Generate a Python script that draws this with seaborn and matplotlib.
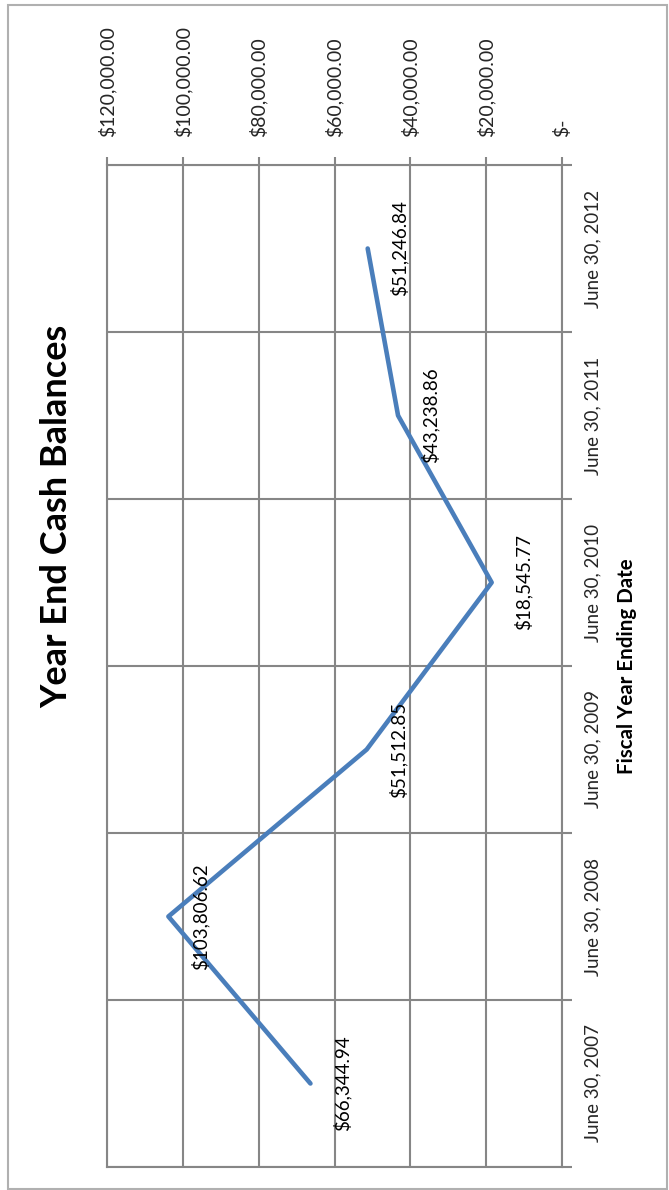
import matplotlib
matplotlib.use("Agg")
import matplotlib.pyplot as plt
import matplotlib.patches as mpatches
import numpy as np
import pandas as pd
import seaborn as sns

# ---- data ----
categories = ["June 30, 2007", "June 30, 2008", "June 30, 2009",
              "June 30, 2010", "June 30, 2011", "June 30, 2012"]
balances = [66344.94, 103806.62, 51512.85, 18545.77, 43238.86, 51246.84]
value_ticks = [0, 20000, 40000, 60000, 80000, 100000, 120000]
value_tick_labels = ["$-", "$20,000.00", "$40,000.00", "$60,000.00",
                     "$80,000.00", "$100,000.00", "$120,000.00"]
data_labels = ["$66,344.94", "$103,806.62", "$51,512.85",
               "$18,545.77", "$43,238.86", "$51,246.84"]
title = "Year End Cash Balances"
axis_title = "Fiscal Year Ending Date"

sns.set_theme(style="white")
FONT = ["Lato", "DejaVu Sans"]
plt.rcParams["font.family"] = FONT

W, H = 669, 1190
fig = plt.figure(figsize=(W / 100, H / 100), dpi=100)
fig.patch.set_facecolor("white")

L, R, T, B = 107, 562, 165, 1167
ax = fig.add_axes([L / W, 1 - B / H, (R - L) / W, (B - T) / H])

df = pd.DataFrame({"pos": np.arange(len(categories)), "balance": balances})
sns.lineplot(data=df, x="balance", y="pos", orient="y", sort=False,
             color="#4A7EBB", linewidth=3.3, ax=ax)

GRID = "#868686"
ax.set_xlim(value_ticks[-1], value_ticks[0])
ax.set_ylim(-0.5, len(categories) - 0.5)

ax.set_xticks(value_ticks)
ax.set_xticklabels(value_tick_labels)
ax.xaxis.tick_top()
ax.tick_params(axis="x", which="major", direction="out", length=6, width=1.5,
               color=GRID, pad=14, labelsize=14, labelrotation=90,
               top=True, bottom=False)

ax.set_yticks(np.arange(len(categories)))
ax.set_yticklabels(categories)
ax.set_yticks(np.arange(len(categories) + 1) - 0.5, minor=True)
ax.yaxis.tick_right()
ax.tick_params(axis="y", which="major", length=0, pad=16, labelsize=13.5,
               right=True, left=False)
ax.tick_params(axis="y", which="minor", direction="out", length=7, width=1.5,
               color=GRID, right=True, left=False)
for lab in ax.get_yticklabels():
    lab.set_rotation(90)
    lab.set_va("center")
    lab.set_ha("left")

ax.grid(True, axis="x", which="major", color=GRID, linewidth=1.5)
ax.grid(True, axis="y", which="minor", color=GRID, linewidth=1.5)
ax.grid(False, axis="y", which="major")
for s in ax.spines.values():
    s.set_color(GRID)
    s.set_linewidth(1.5)
ax.set_xlabel("")
ax.set_ylabel("")

for i, (v, lab) in enumerate(zip(balances, data_labels)):
    ax.annotate(lab, xy=(v, i), xytext=(23, 0), textcoords="offset points",
                rotation=90, ha="center", va="center", fontsize=13.5,
                color="black")

fig.text(57 / W, 1 - 516 / H, title, rotation=90, ha="center", va="center",
         fontsize=26, fontweight="bold", color="black")
fig.text(627 / W, 1 - 666 / H, axis_title, rotation=90, ha="center",
         va="center", fontsize=14.8, fontweight="bold", color="black")

fig.add_artist(mpatches.Rectangle((8 / W, 1 - 1189 / H), (667 - 8) / W,
                                  (1189 - 5) / H, transform=fig.transFigure,
                                  fill=False, edgecolor="#b0b0b0",
                                  linewidth=1.5))

fig.savefig("out.png", dpi=100)
